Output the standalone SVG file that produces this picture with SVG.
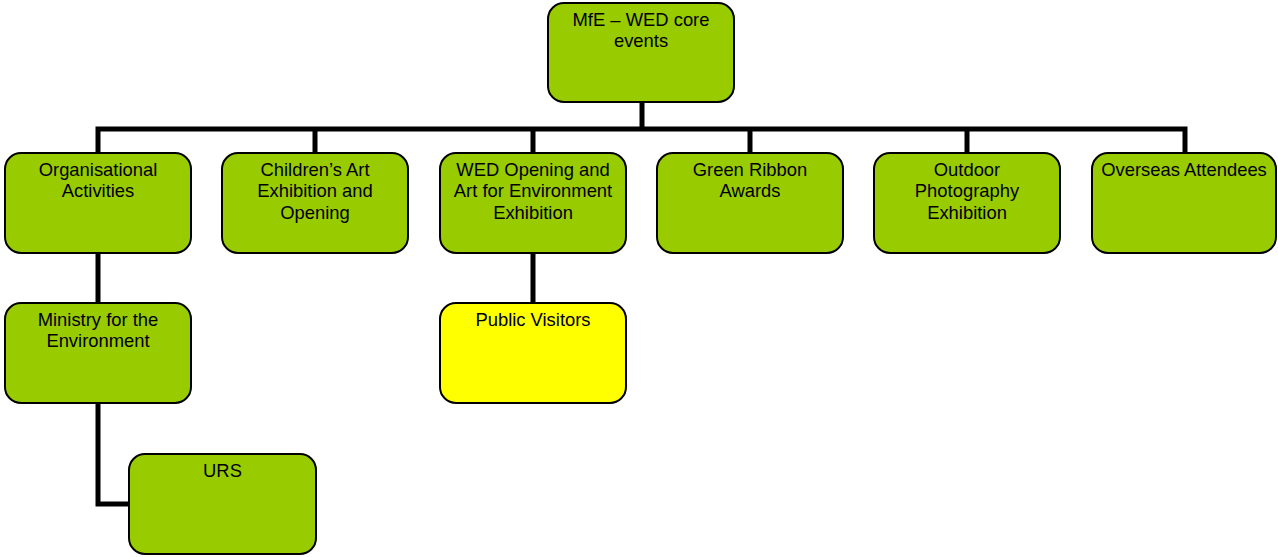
<svg xmlns="http://www.w3.org/2000/svg" width="1278" height="557" viewBox="0 0 1278 557">
<style>
.n{fill:#99cc00;stroke:#000;stroke-width:2}
.y{fill:#ffff00;stroke:#000;stroke-width:2}
.t{font-family:"Liberation Sans",Arial,sans-serif;font-size:18.4px;fill:#000;text-anchor:middle}
.c{fill:none;stroke:#000;stroke-width:5;stroke-linejoin:miter}
</style>
<rect width="1278" height="557" fill="#fff"/>
<g id="connectors">
<path class="c" d="M98 153V129H1185V153"/>
<path class="c" d="M642 102V129M315 129V153M533 129V153M750 129V153M967 129V153"/>
<path class="c" d="M98 253V303M533 253V303"/>
<path class="c" d="M98 403V504H129"/>
</g>
<g id="n-root"><rect class="n" x="548" y="3" width="186" height="99" rx="16"/><text class="t" x="641" y="26">MfE – WED core</text><text class="t" x="641" y="47">events</text></g>
<g id="n-org"><rect class="n" x="5" y="153" width="186" height="100" rx="16"/><text class="t" x="98" y="176">Organisational</text><text class="t" x="98" y="197.3">Activities</text></g>
<g id="n-child"><rect class="n" x="222" y="153" width="186" height="100" rx="16"/><text class="t" x="315" y="176">Children’s Art</text><text class="t" x="315" y="197.3">Exhibition and</text><text class="t" x="315" y="218.6">Opening</text></g>
<g id="n-wed"><rect class="n" x="440" y="153" width="186" height="100" rx="16"/><text class="t" x="533" y="176">WED Opening and</text><text class="t" x="533" y="197.3">Art for Environment</text><text class="t" x="533" y="218.6">Exhibition</text></g>
<g id="n-green"><rect class="n" x="657" y="153" width="186" height="100" rx="16"/><text class="t" x="750" y="176">Green Ribbon</text><text class="t" x="750" y="197.3">Awards</text></g>
<g id="n-outdoor"><rect class="n" x="874" y="153" width="186" height="100" rx="16"/><text class="t" x="967" y="176">Outdoor</text><text class="t" x="967" y="197.3">Photography</text><text class="t" x="967" y="218.6">Exhibition</text></g>
<g id="n-overseas"><rect class="n" x="1092" y="153" width="184" height="100" rx="16"/><text class="t" x="1184" y="176">Overseas Attendees</text></g>
<g id="n-ministry"><rect class="n" x="5" y="303" width="186" height="100" rx="16"/><text class="t" x="98" y="326">Ministry for the</text><text class="t" x="98" y="347.3">Environment</text></g>
<g id="n-public"><rect class="y" x="440" y="303" width="186" height="100" rx="16"/><text class="t" x="533" y="326">Public Visitors</text></g>
<g id="n-urs"><rect class="n" x="129" y="454" width="187" height="100" rx="16"/><text class="t" x="222.5" y="477">URS</text></g>
</svg>
